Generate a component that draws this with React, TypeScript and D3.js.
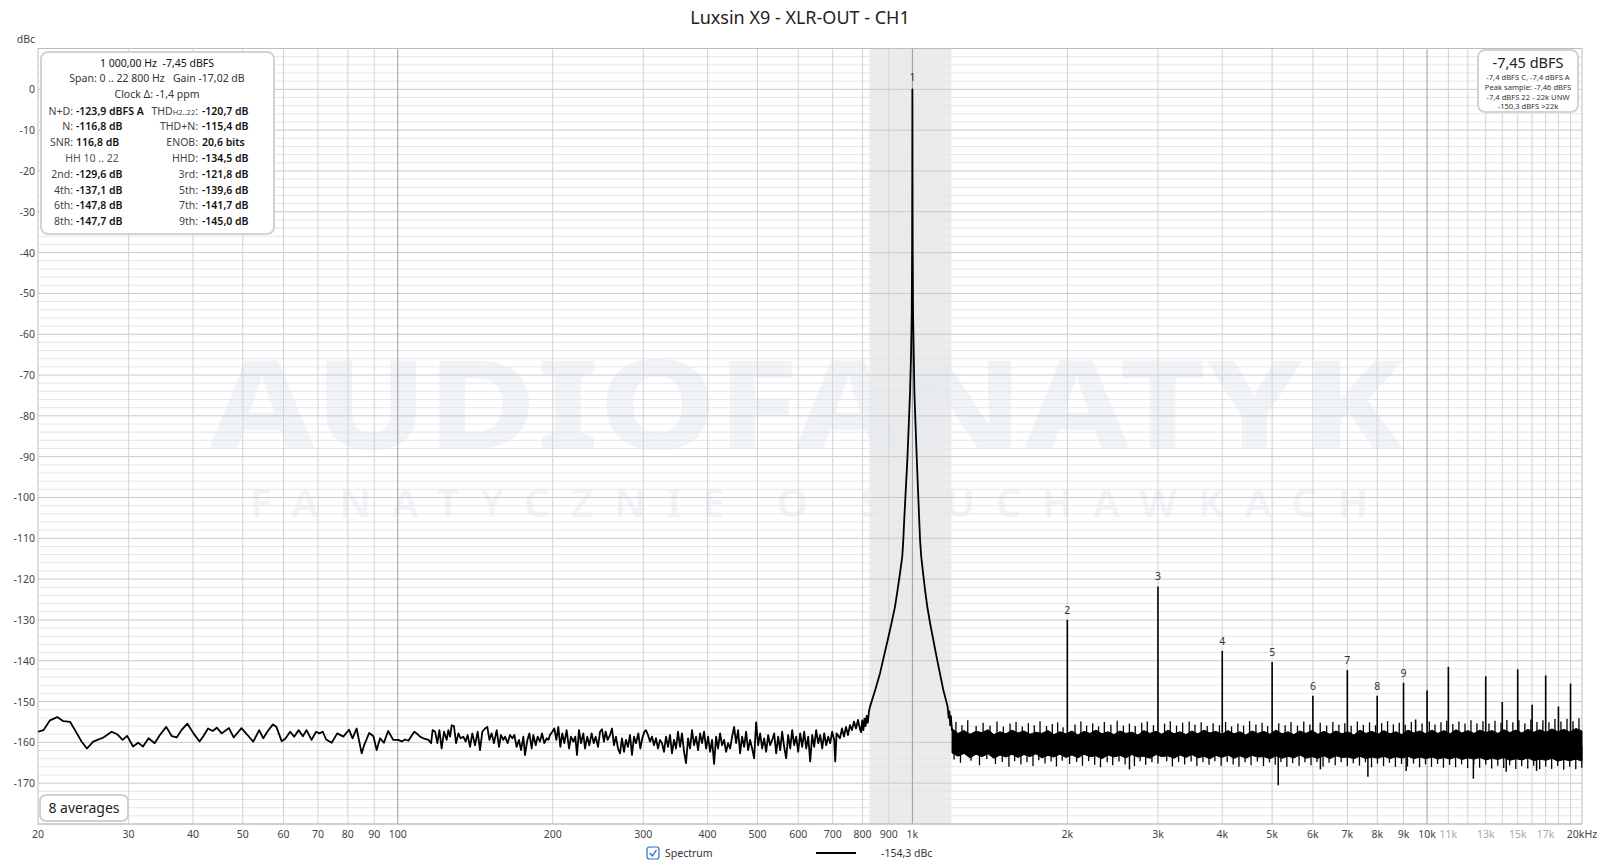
import * as d3 from 'd3';

const W = 1600;
const H = 862;
const PL = 38;
const PR = 1582;
const PT = 48.5;
const PB = 824;

const TITLE = 'Luxsin X9 - XLR-OUT - CH1';

// x axis
const X_TICKS = [20, 30, 40, 50, 60, 70, 80, 90, 100, 200, 300, 400, 500, 600, 700, 800, 900, 1000,
  2000, 3000, 4000, 5000, 6000, 7000, 8000, 9000, 10000, 11000, 13000, 15000, 17000, 20000];
const X_LABELS = ['20', '30', '40', '50', '60', '70', '80', '90', '100', '200', '300', '400', '500', '600',
  '700', '800', '900', '1k', '2k', '3k', '4k', '5k', '6k', '7k', '8k', '9k', '10k', '11k', '13k', '15k', '17k', '20kHz'];
const X_FAINT = ['11k', '13k', '15k', '17k'];
const GRID_FREQS = [30, 40, 50, 60, 70, 80, 90, 100, 200, 300, 400, 500, 600, 700, 800, 900, 1000,
  2000, 3000, 4000, 5000, 6000, 7000, 8000, 9000, 10000, 11000, 12000, 13000, 14000, 15000, 16000,
  17000, 18000, 19000];
const DECADES = [100, 1000, 10000];

// y axis (dBc)
const Y_TICKS = [0, -10, -20, -30, -40, -50, -60, -70, -80, -90, -100, -110, -120, -130, -140, -150, -160, -170];

// highlighted band around the fundamental (Hz)
const BAND = [825, 1190];

// spectrum, 20 Hz .. 100 Hz
const LF_TRACE: [number, number][] = [
  [20, -157.4], [20.5, -157.0], [21.1, -154.6], [21.8, -153.8], [22.4, -154.8], [23.1, -155.0], [23.6, -157.0],
  [24.3, -159.8], [24.9, -161.5], [25.6, -159.8], [26.8, -158.8], [27.8, -157.4], [28.5, -158.0], [29.2, -159.4],
  [29.8, -158.4], [30.6, -161.0], [31.3, -160.1], [32.0, -161.0], [32.8, -159.0], [33.7, -160.2], [34.5, -158.2],
  [35.5, -156.2], [36.4, -158.5], [37.2, -158.8], [38.0, -157.0], [39.0, -155.4], [40.1, -157.8], [41.2, -159.8],
  [41.9, -158.5], [42.8, -156.6], [43.7, -157.2], [44.5, -156.4], [45.5, -157.8], [47.0, -156.5], [48.0, -158.8],
  [49.7, -156.5], [51.3, -158.5], [52.4, -159.8], [53.8, -157.0], [54.8, -159.0], [55.8, -157.4], [57.2, -155.6],
  [58.1, -156.2], [59.5, -159.7], [60.4, -159.2], [61.8, -157.4], [62.9, -158.6], [64.2, -157.0], [65.4, -158.5],
  [66.5, -157.0], [68.0, -159.4], [69.4, -157.4], [70.4, -157.8], [71.5, -157.4], [72.6, -159.3], [74.4, -160.1],
  [76.3, -157.8], [78.4, -158.6], [80.4, -156.9], [81.7, -159.0], [83.2, -156.6], [85.1, -162.7], [86.1, -160.6],
  [88.0, -157.7], [89.7, -158.5], [91.0, -161.9], [92.4, -159.0], [94.0, -160.1], [95.8, -157.2], [98.0, -159.4],
];

// spectrum, 100 Hz .. 800 Hz
const MID_TRACE: [number, number][] = [
  [100.3, -159.4], [101.8, -159.8], [103.3, -159.3], [104.9, -159.6], [106.4, -158.4], [107.7, -157.4],
  [108.8, -157.8], [110.5, -158.6], [112.1, -159.0], [114.7, -159.4], [116.1, -160.2], [116.9, -157.0],
  [118.2, -157.4], [119.4, -160.2], [120.5, -157.0], [121.7, -161.5], [123.0, -157.4], [124.5, -159.4],
  [125.4, -157.0], [126.4, -158.6], [127.3, -155.8], [128.6, -156.0], [129.8, -160.2], [131.2, -157.8],
  [132.5, -159.0], [134.1, -158.6], [135.5, -159.8], [136.7, -158.2], [138.2, -161.1], [139.6, -157.8],
  [141.3, -160.7], [143.0, -157.4], [144.5, -161.9], [146.0, -157.4], [147.8, -156.6], [149.3, -156.2],
  [150.7, -159.4], [152.2, -157.8], [153.8, -160.2], [155.7, -157.0], [157.3, -161.1], [158.7, -158.2],
  [160.4, -159.4], [161.6, -158.6], [163.5, -160.2], [165.2, -158.2], [167.0, -159.0], [168.5, -158.2],
  [170.2, -161.1], [172.0, -159.4], [173.6, -161.9], [175.4, -158.6], [176.7, -163.1], [178.6, -159.4],
  [180.2, -157.8], [182.1, -161.5], [183.4, -158.2], [185.4, -160.7], [187.0, -158.6], [189.0, -159.8],
  [190.7, -157.8], [192.7, -160.2], [194.7, -159.0], [196.2, -159.4], [197.6, -158.2], [199.7, -157.4],
  [201.5, -156.6], [203.3, -159.4], [205.1, -156.2], [207.0, -161.1], [208.8, -157.8], [210.7, -160.2],
  [212.9, -157.0], [215.2, -161.5], [217.1, -158.6], [219.4, -159.8], [221.3, -158.6], [223.0, -163.1],
  [225.0, -157.0], [227.0, -160.2], [229.4, -157.8], [231.1, -161.5], [233.5, -158.6], [235.6, -160.7],
  [238.1, -157.8], [240.3, -160.2], [242.4, -158.6], [245.0, -161.1], [247.2, -157.4], [249.4, -156.8],
  [251.6, -159.8], [253.5, -157.4], [255.8, -159.4], [258.5, -158.2], [260.8, -156.6], [263.1, -160.7],
  [265.5, -158.6], [267.9, -161.5], [270.3, -162.7], [272.7, -159.0], [275.2, -162.3], [277.6, -159.4],
  [280.1, -161.1], [282.7, -158.2], [285.2, -163.1], [287.8, -158.6], [290.3, -160.2], [293.4, -157.8],
  [296.0, -161.5], [298.7, -159.0], [301.4, -157.4],
  [303.6, -157.0], [306.4, -158.2], [309.1, -159.8], [311.9, -158.6], [314.7, -160.7], [317.5, -159.0],
  [320.4, -161.5], [323.3, -159.4], [326.2, -160.2], [329.1, -162.3], [332.1, -158.6], [335.1, -161.1],
  [338.1, -158.2], [341.1, -162.7], [344.2, -159.4], [347.3, -161.5], [350.4, -157.4], [353.6, -161.1],
  [356.7, -157.8], [360.0, -162.3], [363.2, -165.1], [366.5, -159.0], [369.8, -161.5], [373.1, -157.0],
  [376.5, -160.7], [379.9, -158.6], [383.3, -161.9], [386.8, -157.8], [390.2, -160.2], [393.7, -157.4],
  [397.3, -161.5], [400.9, -158.6], [404.5, -162.3], [408.1, -159.4], [411.8, -165.3], [415.5, -158.6],
  [419.2, -161.5], [423.0, -157.8], [426.8, -160.7], [430.7, -159.4], [434.5, -162.3], [438.4, -160.2],
  [442.4, -161.5], [446.4, -158.6], [450.4, -156.2], [454.4, -160.2], [458.5, -157.0], [462.6, -162.7],
  [466.8, -158.6], [471.0, -161.1], [475.2, -157.4], [479.5, -161.9], [483.8, -159.4], [488.2, -161.5],
  [492.6, -163.9], [497.0, -155.1], [501.5, -160.7], [506.0, -157.8], [510.6, -161.5], [515.2, -159.0],
  [519.8, -162.3], [524.5, -158.2], [529.2, -160.7], [534.0, -159.4], [538.8, -157.8], [543.6, -162.7],
  [548.5, -158.6], [553.4, -161.9], [558.4, -157.4], [563.4, -161.1], [568.5, -163.9], [573.6, -158.2],
  [578.8, -161.5], [584.0, -157.0], [589.2, -160.7], [594.5, -158.6], [599.9, -162.3], [605.3, -157.8],
  [610.7, -161.1], [616.2, -157.4], [621.8, -161.5], [627.4, -158.6], [633.0, -164.7], [638.7, -158.2],
  [644.4, -161.1], [650.2, -157.0], [656.1, -160.2], [662.0, -158.2], [668.0, -161.5], [674.0, -157.8],
  [680.0, -160.7], [686.1, -158.6], [692.3, -160.2], [698.5, -157.4], [704.8, -159.4], [708.0, -164.7],
  [712.2, -157.8], [723.2, -159.0], [729.7, -156.6], [736.3, -158.6], [742.9, -156.2], [749.6, -158.2],
  [756.3, -155.8], [763.1, -157.0], [770.0, -154.9], [776.9, -156.6], [783.9, -154.5], [791.0, -156.8],
  [795, -157.5], [799, -154.6], [803, -157.0], [807, -154.2], [811, -156.0], [815, -153.5], [819, -155.2],
  [823, -152.6],
];

// fundamental and its skirts
const PEAK_TRACE: [number, number][] = [
  [827, -151.3], [847, -147.1], [865, -143.1], [880, -139.0], [895.5, -134.9], [910, -131.0], [925, -126.8],
  [936, -122.6], [946, -118.6], [955.6, -114.5], [960, -110.5], [964, -105.5], [970, -99.0], [977.6, -90.8],
  [984, -82.0], [989.4, -74.4], [994, -65.0], [997, -55.0], [998.6, -40.0], [999.5, -20.0], [1000, 0],
  [1000.5, -20.0], [1001.4, -40.0], [1003, -55.0], [1006, -65.0], [1009, -74.4], [1014, -82.0],
  [1019.9, -90.8], [1026, -99.0], [1031, -105.5], [1035, -110.5], [1040.3, -114.5], [1049, -118.6],
  [1058, -122.6], [1069, -126.8], [1083, -131.0], [1098, -134.9], [1114, -139.0], [1131, -143.1],
  [1148, -147.1], [1171, -151.3], [1176, -154.0], [1180, -152.4], [1184, -155.8], [1188, -153.6],
  [1194, -157.2],
];

// dense noise floor above the fundamental: [Hz, upper core edge, lower core edge]
const HF_BAND: [number, number, number][] = [
  [1194, -156.6, -162.6], [1226, -157.8, -163.4], [1260, -157.1, -162.7], [1294, -158.0, -163.8],
  [1329, -157.3, -162.9], [1365, -157.6, -163.5], [1402, -156.9, -162.8], [1440, -158.1, -163.9],
  [1480, -157.4, -163.1], [1520, -157.9, -163.6], [1561, -157.0, -162.9], [1604, -157.7, -163.7],
  [1647, -157.2, -163.0], [1692, -158.0, -163.5], [1738, -157.5, -162.8], [1785, -157.8, -163.8],
  [1834, -157.1, -163.2], [1884, -158.1, -163.6], [1935, -157.4, -162.9], [1988, -157.9, -163.7],
  [2042, -157.2, -163.1], [2097, -158.2, -163.8], [2154, -157.3, -162.9], [2213, -157.8, -163.5],
  [2273, -157.0, -163.3], [2335, -157.9, -164.0], [2398, -157.4, -163.1], [2464, -158.1, -163.6],
  [2531, -157.2, -163.2], [2599, -157.8, -163.8], [2670, -157.5, -163.0], [2743, -158.2, -163.6],
  [2817, -157.1, -163.4], [2894, -157.8, -163.9], [2973, -157.3, -163.0], [3054, -158.0, -163.5],
  [3137, -157.0, -163.3], [3222, -157.9, -163.9], [3310, -157.4, -163.1], [3400, -158.1, -163.7],
  [3492, -157.2, -163.0], [3587, -157.9, -163.8], [3685, -157.0, -163.4], [3785, -157.7, -164.0],
  [3888, -157.3, -163.2], [3994, -158.0, -163.7], [4103, -157.1, -163.1], [4214, -157.9, -163.9],
  [4329, -157.4, -163.3], [4447, -158.2, -163.9], [4568, -157.2, -163.2], [4692, -157.8, -163.6],
  [4820, -157.3, -163.5], [4951, -158.0, -164.0], [5086, -157.0, -163.3], [5224, -157.9, -163.9],
  [5366, -157.4, -163.4], [5512, -158.1, -163.8], [5662, -157.2, -163.1], [5816, -157.8, -163.9],
  [5974, -157.1, -163.5], [6137, -158.0, -163.9], [6304, -157.3, -163.3], [6475, -158.0, -164.0],
  [6651, -157.2, -163.3], [6832, -157.9, -163.7], [7018, -157.4, -163.6], [7209, -158.2, -164.0],
  [7405, -157.0, -163.4], [7607, -157.8, -164.0], [7814, -157.3, -163.6], [8026, -158.0, -163.9],
  [8245, -157.1, -163.4], [8469, -157.9, -164.0], [8700, -157.4, -163.5], [8936, -158.1, -163.9],
  [9180, -157.0, -163.4], [9429, -157.7, -164.0], [9686, -157.2, -163.6], [9950, -157.9, -164.0],
  [10220, -157.0, -163.6], [10498, -157.8, -164.1], [10784, -157.1, -163.7], [11077, -157.9, -164.1],
  [11379, -156.9, -163.6], [11688, -157.7, -164.2], [12006, -157.1, -163.8], [12333, -157.8, -164.1],
  [12668, -157.0, -163.7], [13013, -157.6, -164.3], [13367, -157.1, -163.9], [13731, -157.8, -164.2],
  [14104, -156.9, -163.7], [14488, -157.6, -164.4], [14882, -157.0, -164.0], [15287, -157.7, -164.3],
  [15703, -156.8, -163.8], [16131, -157.5, -164.5], [16569, -156.9, -164.1], [17020, -157.6, -164.4],
  [17484, -156.7, -163.9], [17959, -157.4, -164.6], [18448, -156.8, -164.2], [18950, -157.5, -164.5],
  [19466, -156.6, -164.1], [20000, -157.2, -164.6],
];

// hair-like peaks above the noise core: [Hz, dBc]
const HAIRS_UP: [number, number][] = [
  [1215, -155.0], [1248, -155.8], [1281, -154.6], [1330, -156.0], [1372, -155.2], [1415, -155.9], [1460, -154.9],
  [1502, -156.2], [1548, -155.4], [1590, -155.0], [1635, -156.1], [1680, -155.3], [1725, -155.8], [1770, -154.8],
  [1822, -156.0], [1870, -155.5], [1915, -155.1], [1962, -156.3], [2070, -155.6], [2125, -154.9], [2180, -155.9],
  [2240, -155.3], [2300, -156.1], [2360, -155.0], [2430, -155.7], [2500, -154.7], [2570, -155.9], [2640, -155.4],
  [2710, -156.0], [2790, -155.2], [2860, -154.9], [2940, -155.8], [3090, -155.4], [3170, -154.8], [3260, -155.9],
  [3350, -155.2], [3450, -154.9], [3540, -155.7], [3640, -155.1], [3740, -156.0], [3840, -155.3], [3950, -155.8],
  [4060, -155.0], [4170, -156.1], [4290, -155.4], [4400, -155.9], [4520, -154.8], [4650, -155.6], [4780, -155.2],
  [4900, -156.0], [5150, -155.3], [5300, -155.8], [5440, -155.0], [5600, -155.9], [5760, -154.9], [5920, -155.6],
  [6200, -155.2], [6380, -155.9], [6560, -155.0], [6740, -155.7], [6920, -155.3], [7120, -155.9], [7320, -154.9],
  [7520, -155.7], [7730, -155.1], [7940, -155.8], [8160, -155.3], [8380, -154.8], [8600, -155.6], [8830, -155.2],
  [9070, -155.7], [9320, -155.0], [9780, -155.4], [10100, -154.9], [10360, -155.6], [10640, -155.1], [10920, -154.7],
  [11220, -155.5], [11530, -154.9], [11850, -155.4], [12170, -154.6], [12500, -155.3], [12840, -154.8],
  [13190, -155.4], [13550, -154.7], [13920, -155.2], [14290, -154.5], [14680, -155.1], [15080, -154.6],
  [15490, -155.3], [15910, -154.4], [16350, -155.0], [16790, -154.6], [17250, -155.1], [17720, -154.3],
  [18200, -154.9], [18700, -154.2], [19210, -154.8], [19730, -154.1],
];

// hair-like troughs below the noise core: [Hz, dBc]
const HAIRS_DOWN: [number, number][] = [
  [1205, -164.2], [1240, -165.0], [1300, -164.5], [1350, -165.6], [1395, -164.1], [1450, -165.3], [1495, -164.8],
  [1540, -166.0], [1580, -164.6], [1625, -165.4], [1670, -164.9], [1715, -165.8], [1760, -164.4], [1810, -165.2],
  [1860, -164.7], [1905, -165.9], [1955, -164.5], [2020, -165.3], [2085, -164.8], [2140, -165.7], [2200, -164.6],
  [2260, -165.5], [2320, -166.1], [2390, -164.9], [2450, -165.6], [2520, -164.7], [2590, -165.4], [2700, -165.8],
  [2770, -164.6], [2840, -165.5], [2920, -164.9], [3000, -165.2], [3120, -164.6], [3200, -165.9], [3290, -164.8],
  [3380, -165.4], [3480, -164.7], [3570, -165.8], [3670, -164.9], [3770, -165.5], [3870, -164.6], [3980, -165.7],
  [4090, -164.8], [4200, -165.4], [4310, -166.0], [4430, -164.9], [4550, -165.6], [4680, -164.7], [4810, -165.8],
  [4940, -164.9], [5070, -165.5], [5200, -164.8], [5340, -166.0], [5480, -165.1], [5640, -165.7], [5790, -164.9],
  [5950, -165.6], [6110, -164.8], [6280, -165.9], [6450, -165.0], [6630, -165.6], [6810, -164.9], [7000, -165.8],
  [7190, -165.1], [7390, -165.7], [7590, -164.9], [7800, -166.1], [8010, -165.2], [8230, -165.8], [8450, -165.0],
  [8680, -166.0], [8920, -165.3], [9160, -165.9], [9410, -165.2], [9670, -166.1], [9930, -165.4], [10200, -166.0],
  [10480, -165.3], [10760, -166.2], [11060, -165.5], [11360, -166.1], [11670, -165.4], [11990, -166.3],
  [12320, -165.6], [12650, -166.2], [13000, -165.5], [13350, -166.4], [13720, -165.7], [14090, -166.3],
  [14470, -165.6], [14870, -166.5], [15270, -165.8], [15690, -166.4], [16110, -165.7], [16550, -166.6],
  [17000, -165.9], [17460, -166.5], [17940, -165.8], [18430, -166.7], [18930, -166.0], [19450, -166.6],
  [19980, -166.2],
];

// isolated deep downward spikes
const DIPS: [number, number][] = [
  [2641, -166.6], [5138, -170.5], [6205, -166.6], [7674, -168.4], [9107, -167.0], [12302, -168.9],
  [14250, -167.2], [16322, -167.0],
];

// harmonic and spurious lines: [Hz, dBc, label]
const HARMONICS: [number, number, string][] = [
  [2000, -130.0, '2'], [3000, -121.8, '3'], [4000, -137.6, '4'], [5000, -140.3, '5'], [6000, -148.6, '6'],
  [7000, -142.3, '7'], [8000, -148.6, '8'], [9000, -145.4, '9'], [9500, -154.4, ''], [10000, -147.3, ''],
  [11000, -141.5, ''], [13000, -143.8, ''], [14000, -150.1, ''], [15000, -142.1, ''], [16000, -150.8, ''],
  [17000, -143.6, ''], [18000, -151.2, ''], [19000, -145.6, ''],
];

// info panel
const HEAD_LINES = ['1 000,00 Hz  -7,45 dBFS', 'Span: 0 .. 22 800 Hz   Gain -17,02 dB', 'Clock Δ: -1,4 ppm'];
const INFO_LEFT: [string, string][] = [
  ['N+D:', '-123,9 dBFS A'], ['N:', '-116,8 dB'], ['SNR:', '116,8 dB'], ['', ''],
  ['2nd:', '-129,6 dB'], ['4th:', '-137,1 dB'], ['6th:', '-147,8 dB'], ['8th:', '-147,7 dB'],
];
const INFO_RIGHT: [string, string][] = [
  ['THD', '-120,7 dB'], ['THD+N:', '-115,4 dB'], ['ENOB:', '20,6 bits'], ['HHD:', '-134,5 dB'],
  ['3rd:', '-121,8 dB'], ['5th:', '-139,6 dB'], ['7th:', '-141,7 dB'], ['9th:', '-145,0 dB'],
];
const LEVEL_BIG = '-7,45 dBFS';
const LEVEL_LINES = ['-7,4 dBFS C, -7,4 dBFS A', 'Peak sample: -7,46 dBFS', '-7,4 dBFS 22 - 22k UNW', '-150,3 dBFS >22k'];

const FONT = "'Noto Sans', 'Open Sans', sans-serif";

export default function App() {
  const x = d3.scaleLog().domain([20, 20000]).range([PL, PR]);
  const y = d3.scaleLinear().domain([-180, 10]).range([PB, PT]);

  const line = d3
    .line<[number, number]>()
    .x((d) => x(d[0]))
    .y((d) => y(d[1]));
  const trace = line([...LF_TRACE, ...MID_TRACE, ...PEAK_TRACE]) ?? '';

  const band = d3
    .area<[number, number, number]>()
    .x((d) => x(d[0]))
    .y0((d) => y(d[2]))
    .y1((d) => y(d[1]))(HF_BAND) ?? '';

  const hLines = d3.range(-180, 11, 2);

  return (
    <svg
      width={W}
      height={H}
      style={{ position: 'fixed', left: 0, top: 0, background: '#fff' }}
      fontFamily={FONT}
    >
      <rect width={W} height={H} fill="#fff" />

      <text x={800} y={24} textAnchor="middle" fontSize={18} fill="#222">{TITLE}</text>

      {/* highlighted band */}
      <rect x={x(BAND[0])} y={PT} width={x(BAND[1]) - x(BAND[0])} height={PB - PT} fill="#ebebeb" />

      {/* watermark */}
      <text x={209} y={449} fontSize={124} fontWeight={800} fill="#e4ebf4" opacity={0.55}
        textLength={1194} lengthAdjust="spacingAndGlyphs">AUDIOFANATYK</text>
      <text x={250} y={517} fontSize={40} fontWeight={600} fill="#e4ebf4" opacity={0.55}
        textLength={1118} lengthAdjust="spacing">FANATYCZNIE O SŁUCHAWKACH</text>

      {/* grid */}
      {hLines.map((v) => (
        <line key={'h' + v} x1={PL} x2={PR} y1={y(v)} y2={y(v)}
          stroke={v % 10 === 0 ? '#c9c9c9' : '#e6e6e6'} strokeWidth={1} />
      ))}
      {GRID_FREQS.map((f) => (
        <line key={'v' + f} x1={x(f)} x2={x(f)} y1={PT} y2={PB}
          stroke={DECADES.includes(f) ? '#9c9c9c' : '#d2d2d2'} strokeWidth={1} />
      ))}
      <rect x={PL} y={PT} width={PR - PL} height={PB - PT} fill="none" stroke="#bdbdbd" strokeWidth={1} />

      {/* axes labels */}
      <text x={35} y={43} textAnchor="end" fontSize={10.5} fill="#444">dBc</text>
      {Y_TICKS.map((v) => (
        <text key={'yt' + v} x={35} y={y(v) + 4} textAnchor="end" fontSize={10.5} fill="#444">{v}</text>
      ))}
      {X_TICKS.map((f, i) => (
        <text key={'xt' + f} x={x(f)} y={838} textAnchor="middle" fontSize={10.5}
          fill={X_FAINT.includes(X_LABELS[i]) ? '#aaa' : '#444'}>{X_LABELS[i]}</text>
      ))}

      {/* spectrum */}
      <path d={band} fill="#000" stroke="#000" strokeWidth={1} />
      {HAIRS_UP.map(([f, v]) => (
        <line key={'hu' + f} x1={x(f)} x2={x(f)} y1={y(-159)} y2={y(v)} stroke="#000" strokeWidth={1.3} />
      ))}
      {HAIRS_DOWN.map(([f, v]) => (
        <line key={'hd' + f} x1={x(f)} x2={x(f)} y1={y(-161)} y2={y(v)} stroke="#000" strokeWidth={1.3} />
      ))}
      {DIPS.map(([f, v]) => (
        <line key={'d' + f} x1={x(f)} x2={x(f)} y1={y(-162)} y2={y(v)} stroke="#000" strokeWidth={1.5} />
      ))}
      {HARMONICS.map(([f, v, lab]) => (
        <g key={'hm' + f}>
          <line x1={x(f)} x2={x(f)} y1={y(-158)} y2={y(v)} stroke="#000" strokeWidth={1.6} />
          {lab && (
            <text x={x(f)} y={y(v) - 6} textAnchor="middle" fontSize={10.5} fill="#333">{lab}</text>
          )}
        </g>
      ))}
      <path d={trace} fill="none" stroke="#000" strokeWidth={1.8} strokeLinejoin="round" />
      <text x={x(1000)} y={y(0) - 8} textAnchor="middle" fontSize={10.5} fill="#333">1</text>

      {/* info panel */}
      <rect x={41} y={52} width={233} height={182} rx={7} fill="#fff" stroke="#d3d3d3" strokeWidth={2} />
      {HEAD_LINES.map((t, i) => (
        <text key={'hl' + i} x={157} y={66.5 + i * 15.8} textAnchor="middle" fontSize={10.5}
          fill={i === 0 ? '#111' : '#333'} style={{ whiteSpace: 'pre' }}>{t}</text>
      ))}
      {INFO_LEFT.map(([lab, val], i) => (
        <g key={'il' + i}>
          {i === 3 ? (
            <text x={92} y={114.5 + i * 15.8} textAnchor="middle" fontSize={10.5} fill="#555">HH 10 .. 22</text>
          ) : (
            <>
              <text x={73} y={114.5 + i * 15.8} textAnchor="end" fontSize={10.5} fill="#444">{lab}</text>
              <text x={76} y={114.5 + i * 15.8} fontSize={10.5} fontWeight={600} fill="#111">{val}</text>
            </>
          )}
        </g>
      ))}
      {INFO_RIGHT.map(([lab, val], i) => (
        <g key={'ir' + i}>
          {i === 0 ? (
            <text x={198} y={114.5} textAnchor="end" fontSize={10.5} fill="#444">
              {lab}<tspan fontSize={7.5}>H2..22</tspan>:
            </text>
          ) : (
            <text x={198} y={114.5 + i * 15.8} textAnchor="end" fontSize={10.5} fill="#444">{lab}</text>
          )}
          <text x={202} y={114.5 + i * 15.8} fontSize={10.5} fontWeight={600} fill="#111">{val}</text>
        </g>
      ))}

      {/* level panel */}
      <rect x={1478} y={50} width={100} height={62} rx={7} fill="#fff" stroke="#d3d3d3" strokeWidth={2} />
      <text x={1528} y={68} textAnchor="middle" fontSize={14.5} fill="#222">{LEVEL_BIG}</text>
      {LEVEL_LINES.map((t, i) => (
        <text key={'lv' + i} x={1528} y={80 + i * 9.8} textAnchor="middle" fontSize={7.6} fill="#333">{t}</text>
      ))}

      {/* averages */}
      <rect x={40} y={795} width={88} height={26} rx={6} fill="#fff" stroke="#d0d0d0" strokeWidth={2} />
      <text x={84} y={813} textAnchor="middle" fontSize={14} fill="#222">8 averages</text>

      {/* legend */}
      <rect x={647} y={847} width={12} height={12} rx={2.5} fill="#fff" stroke="#2f6fd0" strokeWidth={1.2} />
      <path d="M649.8,853 L652.3,855.8 L656.5,849.8" fill="none" stroke="#2f6fd0" strokeWidth={1.4} />
      <text x={665} y={857} fontSize={10.5} fill="#333">Spectrum</text>
      <line x1={816} x2={856} y1={853} y2={853} stroke="#000" strokeWidth={2} />
      <text x={881} y={857} fontSize={10.5} fill="#333">-154,3 dBc</text>
    </svg>
  );
}
